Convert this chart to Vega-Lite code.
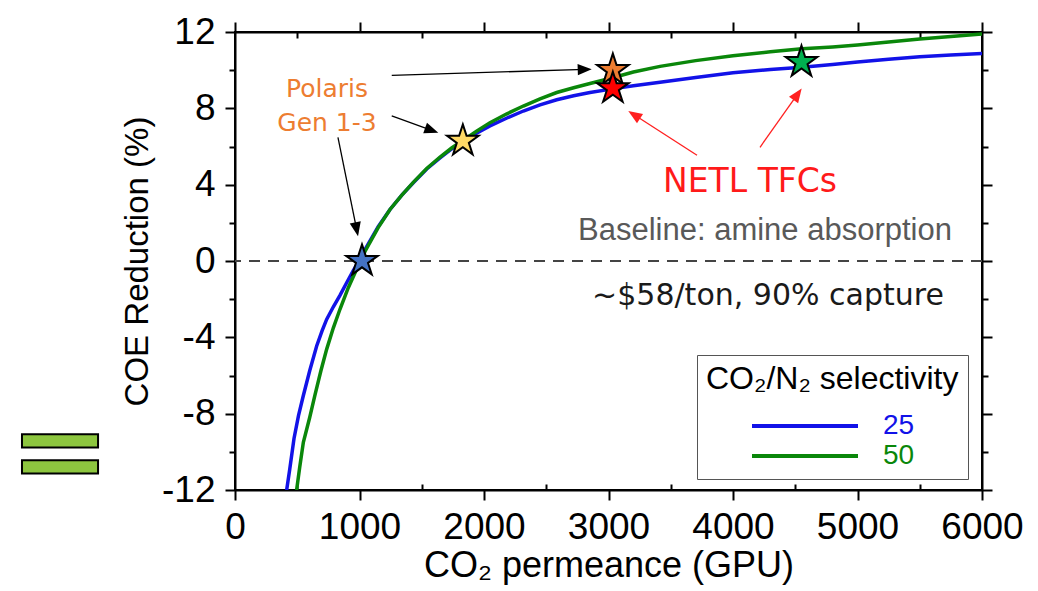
{
  "$schema": "https://vega.github.io/schema/vega-lite/v6.json",
  "width": 747,
  "height": 458,
  "autosize": {"type": "none"},
  "padding": {"left": 235, "top": 32, "right": 56, "bottom": 101},
  "background": "white",
  "config": {
    "view": {"stroke": "black", "strokeWidth": 2},
    "axis": {
      "domainColor": "black", "domainWidth": 2, "tickColor": "black", "tickWidth": 2,
      "grid": false, "labelFont": "Liberation Sans", "titleFont": "Liberation Sans",
      "labelColor": "black", "titleColor": "black", "titleFontWeight": "normal",
      "labelFontSize": 37, "titleFontSize": 33, "labelFlush": false, "labelOverlap": false, "labelBound": false
    }
  },
  "datasets": {
    "curves": [
      {"perm": 415, "coe": -12, "sel": "25"}, {"perm": 440, "coe": -10.9, "sel": "25"}, {"perm": 474, "coe": -9.3, "sel": "25"},
      {"perm": 510, "coe": -8.1, "sel": "25"}, {"perm": 549, "coe": -7.05, "sel": "25"}, {"perm": 600, "coe": -5.75, "sel": "25"},
      {"perm": 656, "coe": -4.45, "sel": "25"}, {"perm": 700, "coe": -3.65, "sel": "25"}, {"perm": 736, "coe": -3.06, "sel": "25"},
      {"perm": 790, "coe": -2.4, "sel": "25"}, {"perm": 843, "coe": -1.8, "sel": "25"}, {"perm": 900, "coe": -1.1, "sel": "25"},
      {"perm": 950, "coe": -0.5, "sel": "25"}, {"perm": 1000, "coe": 0.05, "sel": "25"}, {"perm": 1044, "coe": 0.6, "sel": "25"},
      {"perm": 1150, "coe": 1.8, "sel": "25"}, {"perm": 1245, "coe": 2.7, "sel": "25"}, {"perm": 1340, "coe": 3.45, "sel": "25"},
      {"perm": 1432, "coe": 4.1, "sel": "25"}, {"perm": 1540, "coe": 4.82, "sel": "25"}, {"perm": 1647, "coe": 5.4, "sel": "25"},
      {"perm": 1740, "coe": 5.87, "sel": "25"}, {"perm": 1834, "coe": 6.28, "sel": "25"}, {"perm": 1940, "coe": 6.7, "sel": "25"},
      {"perm": 2048, "coe": 7.08, "sel": "25"}, {"perm": 2180, "coe": 7.48, "sel": "25"}, {"perm": 2316, "coe": 7.86, "sel": "25"},
      {"perm": 2450, "coe": 8.18, "sel": "25"}, {"perm": 2584, "coe": 8.45, "sel": "25"}, {"perm": 2720, "coe": 8.66, "sel": "25"},
      {"perm": 2851, "coe": 8.83, "sel": "25"}, {"perm": 3033, "coe": 9.02, "sel": "25"}, {"perm": 3200, "coe": 9.18, "sel": "25"},
      {"perm": 3414, "coe": 9.37, "sel": "25"}, {"perm": 3700, "coe": 9.62, "sel": "25"}, {"perm": 4000, "coe": 9.86, "sel": "25"},
      {"perm": 4300, "coe": 10.04, "sel": "25"}, {"perm": 4554, "coe": 10.15, "sel": "25"}, {"perm": 4800, "coe": 10.3, "sel": "25"},
      {"perm": 5000, "coe": 10.43, "sel": "25"}, {"perm": 5250, "coe": 10.57, "sel": "25"}, {"perm": 5500, "coe": 10.7, "sel": "25"},
      {"perm": 5750, "coe": 10.8, "sel": "25"}, {"perm": 6000, "coe": 10.87, "sel": "25"},
      {"perm": 495, "coe": -12, "sel": "50"}, {"perm": 520, "coe": -10.8, "sel": "50"}, {"perm": 549, "coe": -9.5, "sel": "50"},
      {"perm": 600, "coe": -8.2, "sel": "50"}, {"perm": 643, "coe": -7.0, "sel": "50"}, {"perm": 690, "coe": -5.75, "sel": "50"},
      {"perm": 736, "coe": -4.63, "sel": "50"}, {"perm": 790, "coe": -3.5, "sel": "50"}, {"perm": 843, "coe": -2.53, "sel": "50"},
      {"perm": 910, "coe": -1.4, "sel": "50"}, {"perm": 977, "coe": -0.43, "sel": "50"}, {"perm": 1044, "coe": 0.5, "sel": "50"},
      {"perm": 1150, "coe": 1.75, "sel": "50"}, {"perm": 1245, "coe": 2.7, "sel": "50"}, {"perm": 1340, "coe": 3.45, "sel": "50"},
      {"perm": 1432, "coe": 4.12, "sel": "50"}, {"perm": 1540, "coe": 4.85, "sel": "50"}, {"perm": 1647, "coe": 5.45, "sel": "50"},
      {"perm": 1740, "coe": 5.92, "sel": "50"}, {"perm": 1834, "coe": 6.33, "sel": "50"}, {"perm": 1940, "coe": 6.8, "sel": "50"},
      {"perm": 2048, "coe": 7.25, "sel": "50"}, {"perm": 2180, "coe": 7.7, "sel": "50"}, {"perm": 2316, "coe": 8.12, "sel": "50"},
      {"perm": 2450, "coe": 8.5, "sel": "50"}, {"perm": 2584, "coe": 8.83, "sel": "50"}, {"perm": 2720, "coe": 9.08, "sel": "50"},
      {"perm": 2851, "coe": 9.3, "sel": "50"}, {"perm": 3033, "coe": 9.6, "sel": "50"}, {"perm": 3200, "coe": 9.9, "sel": "50"},
      {"perm": 3414, "coe": 10.2, "sel": "50"}, {"perm": 3700, "coe": 10.5, "sel": "50"}, {"perm": 4000, "coe": 10.75, "sel": "50"},
      {"perm": 4300, "coe": 10.96, "sel": "50"}, {"perm": 4554, "coe": 11.12, "sel": "50"}, {"perm": 4800, "coe": 11.22, "sel": "50"},
      {"perm": 5000, "coe": 11.32, "sel": "50"}, {"perm": 5250, "coe": 11.48, "sel": "50"}, {"perm": 5500, "coe": 11.63, "sel": "50"},
      {"perm": 5750, "coe": 11.77, "sel": "50"}, {"perm": 6000, "coe": 11.9, "sel": "50"}
    ],
    "stars": [
      {"perm": 1020, "coe": 0.0, "key": "Polaris Gen 1"},
      {"perm": 1830, "coe": 6.29, "key": "Polaris Gen 2"},
      {"perm": 3035, "coe": 10.0, "key": "Polaris Gen 3"},
      {"perm": 3035, "coe": 9.05, "key": "NETL TFC 1"},
      {"perm": 4550, "coe": 10.42, "key": "NETL TFC 2"}
    ],
    "arrows": [
      {"x": 827, "y": 6.48, "x2": 977, "y2": 1.66, "key": "Polaris"},
      {"x": 1259, "y": 7.6, "x2": 1580, "y2": 6.85, "key": "Polaris"},
      {"x": 1259, "y": 9.73, "x2": 2809, "y2": 10.04, "key": "Polaris"},
      {"x": 3711, "y": 5.54, "x2": 3206, "y2": 7.66, "key": "NETL"},
      {"x": 4217, "y": 5.96, "x2": 4519, "y2": 8.74, "key": "NETL"}
    ],
    "heads": [
      {"x": 977, "y": 1.66, "angle": 168.6, "key": "Polaris"},
      {"x": 1580, "y": 6.85, "angle": 109.6, "key": "Polaris"},
      {"x": 2809, "y": 10.04, "angle": 88.3, "key": "Polaris"},
      {"x": 3206, "y": 7.66, "angle": 302.8, "key": "NETL"},
      {"x": 4519, "y": 8.74, "angle": 35.4, "key": "NETL"}
    ],
    "decor": [
      {"x": -1711, "x2": -1100, "y": -9.08, "y2": -9.77},
      {"x": -1711, "x2": -1100, "y": -10.44, "y2": -11.13}
    ]
  },
  "layer": [
    {
      "data": {"name": "decor"},
      "mark": {"type": "rect", "fill": "#8DC63F", "stroke": "black", "strokeWidth": 2, "clip": false},
      "encoding": {
        "x": {"field": "x", "type": "quantitative", "scale": {"domain": [0, 6000], "nice": false, "zero": false}, "axis": null},
        "x2": {"field": "x2"},
        "y": {"field": "y", "type": "quantitative", "scale": {"domain": [-12, 12], "nice": false, "zero": false}, "axis": null},
        "y2": {"field": "y2"}
      }
    },
    {
      "data": {"values": [{"coe": 0}]},
      "mark": {"type": "rule", "color": "#444444", "strokeWidth": 2, "strokeDash": [11, 8]},
      "encoding": {
        "y": {"field": "coe", "type": "quantitative", "scale": {"domain": [-12, 12], "nice": false, "zero": false},
          "axis": {"orient": "left", "values": [-10, -6, -2, 2, 6, 10], "labels": false, "domain": false, "tickSize": 6, "title": null}}
      }
    },
    {
      "data": {"name": "curves"},
      "mark": {"type": "line", "strokeWidth": 3.5, "clip": true},
      "encoding": {
        "x": {"field": "perm", "type": "quantitative", "scale": {"domain": [0, 6000], "nice": false, "zero": false},
          "axis": {"orient": "bottom", "values": [0, 1000, 2000, 3000, 4000, 5000, 6000], "labelExpr": "'' + datum.value", "tickSize": 10, "labelPadding": 9, "title": "CO₂ permeance (GPU)", "titleFontSize": 36, "titlePadding": 3}},
        "y": {"field": "coe", "type": "quantitative", "scale": {"domain": [-12, 12], "nice": false, "zero": false},
          "axis": {"orient": "left", "values": [-12, -8, -4, 0, 4, 8, 12], "labelExpr": "'' + datum.value", "tickSize": 10, "labelPadding": 10, "title": "COE Reduction (%)", "titlePadding": 7}},
        "color": {"field": "sel", "type": "nominal", "scale": {"domain": ["25", "50"], "range": ["#1212E8", "#0A870A"]},
          "legend": {
            "title": "CO₂/N₂ selectivity", "orient": "none", "legendX": 462, "legendY": 323, "direction": "vertical",
            "symbolType": "stroke", "symbolSize": 11236, "symbolStrokeWidth": 4, "clipHeight": 18, "rowPadding": 2,
            "labelFontSize": 28, "labelFont": "Liberation Sans", "labelOffset": 23, "symbolOffset": 44,
            "titleFontSize": 32, "titleFont": "Liberation Sans", "titleFontWeight": "normal", "titleColor": "black",
            "titlePadding": 21, "titleLimit": 400, "padding": 9, "strokeColor": "#555555", "fillColor": "white",
            "encode": {"labels": {"update": {"fill": {"signal": "datum.value == '25' ? '#1212E8' : '#0A870A'"}}}}
          }
        }
      }
    },
    {
      "data": {"name": "arrows"},
      "mark": {"type": "rule", "strokeWidth": 1.3},
      "encoding": {
        "x": {"field": "x", "type": "quantitative", "scale": {"domain": [0, 6000], "nice": false, "zero": false},
          "axis": {"orient": "bottom", "values": [500, 1500, 2500, 3500, 4500, 5500], "labels": false, "domain": false, "tickSize": -6, "title": null}},
        "x2": {"field": "x2"},
        "y": {"field": "y", "type": "quantitative", "scale": {"domain": [-12, 12], "nice": false, "zero": false},
          "axis": {"orient": "right", "values": [-12, -8, -4, 0, 4, 8, 12], "labels": false, "tickSize": 10, "title": null}},
        "y2": {"field": "y2"},
        "stroke": {"field": "key", "type": "nominal", "scale": {"domain": ["Polaris", "NETL"], "range": ["#000000", "#FF2020"]}, "legend": null}
      }
    },
    {
      "data": {"name": "heads"},
      "mark": {"type": "point", "shape": "M0,-1L0.8,1L-0.8,1Z", "size": 196, "filled": true, "opacity": 1, "strokeWidth": 0},
      "encoding": {
        "x": {"field": "x", "type": "quantitative", "scale": {"domain": [0, 6000], "nice": false, "zero": false},
          "axis": {"orient": "top", "values": [0, 1000, 2000, 3000, 4000, 5000, 6000], "labels": false, "tickSize": 10, "title": null}},
        "y": {"field": "y", "type": "quantitative", "scale": {"domain": [-12, 12], "nice": false, "zero": false},
          "axis": {"orient": "right", "values": [-10, -6, -2, 2, 6, 10], "labels": false, "domain": false, "tickSize": 6, "title": null}},
        "angle": {"field": "angle", "type": "quantitative", "scale": null},
        "fill": {"field": "key", "type": "nominal",
          "scale": {"domain": ["Polaris Gen 1", "Polaris Gen 2", "Polaris Gen 3", "NETL TFC 1", "NETL TFC 2", "Polaris", "NETL"],
            "range": ["#4472C4", "#FFD966", "#ED7D31", "#FF0000", "#00B050", "#000000", "#FF2020"]}, "legend": null}
      }
    },
    {
      "data": {"name": "stars"},
      "mark": {"type": "point", "shape": "M0,-1L0.2245,-0.309L0.9511,-0.309L0.3633,0.118L0.5878,0.809L0,0.382L-0.5878,0.809L-0.3633,0.118L-0.9511,-0.309L-0.2245,-0.309Z",
        "size": 1100, "filled": true, "opacity": 1, "stroke": "black", "strokeWidth": 2, "strokeJoin": "miter"},
      "encoding": {
        "x": {"field": "perm", "type": "quantitative", "scale": {"domain": [0, 6000], "nice": false, "zero": false},
          "axis": {"orient": "top", "values": [500, 1500, 2500, 3500, 4500, 5500], "labels": false, "domain": false, "tickSize": -6, "title": null}},
        "y": {"field": "coe", "type": "quantitative", "scale": {"domain": [-12, 12], "nice": false, "zero": false}, "axis": null},
        "fill": {"field": "key", "type": "nominal",
          "scale": {"domain": ["Polaris Gen 1", "Polaris Gen 2", "Polaris Gen 3", "NETL TFC 1", "NETL TFC 2", "Polaris", "NETL"],
            "range": ["#4472C4", "#FFD966", "#ED7D31", "#FF0000", "#00B050", "#000000", "#FF2020"]}, "legend": null}
      }
    },
    {
      "data": {"values": [{"perm": 739, "coe": 9.03, "label": "Polaris"}, {"perm": 739, "coe": 7.25, "label": "Gen 1-3"}]},
      "mark": {"type": "text", "font": "DejaVu Sans", "fontSize": 25, "color": "#ED7D31", "align": "center", "baseline": "middle"},
      "encoding": {
        "x": {"field": "perm", "type": "quantitative", "scale": {"domain": [0, 6000], "nice": false, "zero": false}, "axis": null},
        "y": {"field": "coe", "type": "quantitative", "scale": {"domain": [-12, 12], "nice": false, "zero": false}, "axis": null},
        "text": {"field": "label"}
      }
    },
    {
      "data": {"values": [{"perm": 4137, "coe": 4.12, "label": "NETL TFCs"}]},
      "mark": {"type": "text", "font": "DejaVu Sans", "fontSize": 33, "color": "#FF1A1A", "align": "center", "baseline": "middle"},
      "encoding": {
        "x": {"field": "perm", "type": "quantitative", "scale": {"domain": [0, 6000], "nice": false, "zero": false}, "axis": null},
        "y": {"field": "coe", "type": "quantitative", "scale": {"domain": [-12, 12], "nice": false, "zero": false}, "axis": null},
        "text": {"field": "label"}
      }
    },
    {
      "data": {"values": [{"perm": 4257, "coe": 1.56, "label": "Baseline: amine absorption"}]},
      "mark": {"type": "text", "font": "Liberation Sans", "fontSize": 31, "color": "#595959", "align": "center", "baseline": "middle"},
      "encoding": {
        "x": {"field": "perm", "type": "quantitative", "scale": {"domain": [0, 6000], "nice": false, "zero": false}, "axis": null},
        "y": {"field": "coe", "type": "quantitative", "scale": {"domain": [-12, 12], "nice": false, "zero": false}, "axis": null},
        "text": {"field": "label"}
      }
    },
    {
      "data": {"values": [{"perm": 4281, "coe": -1.85, "label": "~$58/ton, 90% capture"}]},
      "mark": {"type": "text", "font": "DejaVu Sans", "fontSize": 30, "color": "#1A1A1A", "align": "center", "baseline": "middle"},
      "encoding": {
        "x": {"field": "perm", "type": "quantitative", "scale": {"domain": [0, 6000], "nice": false, "zero": false}, "axis": null},
        "y": {"field": "coe", "type": "quantitative", "scale": {"domain": [-12, 12], "nice": false, "zero": false}, "axis": null},
        "text": {"field": "label"}
      }
    }
  ],
  "resolve": {"axis": {"x": "independent", "y": "independent"}}
}
